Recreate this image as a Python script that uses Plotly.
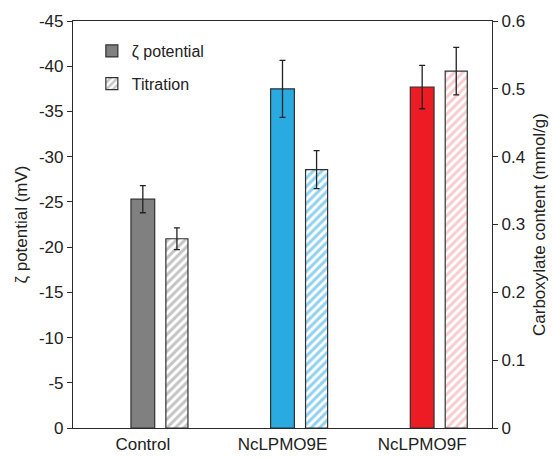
import plotly.graph_objects as go

categories = ["Control", "NcLPMO9E", "NcLPMO9F"]
zeta_mV = [-25.3, -37.5, -37.7]
zeta_err = [1.5, 3.15, 2.4]
carbox = [0.279, 0.381, 0.526]
carbox_err = [0.016, 0.028, 0.035]
zeta_colors = ["#808080", "#29ABE2", "#ED1C24"]
titr_stripe_colors = ["#8a8a8a", "#1FA3E0", "#F09AA0"]
left_ticks = [0, -5, -10, -15, -20, -25, -30, -35, -40, -45]
left_ticktext = ["0", "-5", "-10", "-15", "-20", "-25", "-30", "-35", "-40", "-45"]
right_ticks = [0, 0.1, 0.2, 0.3, 0.4, 0.5, 0.6]
right_ticktext = ["0", "0.1", "0.2", "0.3", "0.4", "0.5", "0.6"]

xpos = list(range(len(categories)))
FONT = "Liberation Sans, Arial, sans-serif"
AX = "#2a2a2a"

fig = go.Figure()
fig.add_trace(go.Bar(
    x=xpos, y=zeta_mV, name="ζ potential", yaxis="y", legendgroup="a",
    width=0.17, offset=-0.085,
    marker=dict(color=zeta_colors, line=dict(color="#303030", width=1.2)),
    error_y=dict(type="data", array=zeta_err, color="#222222", thickness=1.3, width=3),
))
fig.add_trace(go.Bar(
    x=xpos, y=carbox, name="Titration", yaxis="y2", legendgroup="b",
    width=0.158, offset=0.165,
    marker=dict(color="white", line=dict(color="#303030", width=1.2),
                pattern=dict(shape="/", fgcolor=titr_stripe_colors, bgcolor="white",
                             size=6, solidity=0.5, fillmode="overlay")),
    error_y=dict(type="data", array=carbox_err, color="#222222", thickness=1.3, width=3),
))

fig.update_layout(
    width=552, height=458,
    margin=dict(l=73, r=60, t=21, b=30),
    paper_bgcolor="white", plot_bgcolor="white",
    barmode="overlay",
    font=dict(family=FONT, size=16, color="#222222"),
    showlegend=True,
    legend=dict(x=0.045, y=0.968, xanchor="left", yanchor="top",
                bgcolor="rgba(0,0,0,0)", font=dict(size=16, family=FONT),
                itemwidth=30, tracegroupgap=9),
    xaxis=dict(range=[-0.5, 2.5], tickvals=xpos, ticktext=categories,
               showline=True, linecolor=AX, linewidth=1.2, mirror=True,
               ticks="", showgrid=False, zeroline=False, automargin=False,
               tickfont=dict(size=17, family=FONT)),
    yaxis=dict(range=[0, -45], tickvals=left_ticks, ticktext=left_ticktext,
               showline=True, linecolor=AX, linewidth=1.2,
               ticks="outside", ticklen=5, tickcolor=AX,
               showgrid=False, zeroline=False, automargin=False,
               tickfont=dict(size=17, family=FONT),
               title=dict(text="ζ potential (mV)", font=dict(size=17, family=FONT), standoff=6)),
    yaxis2=dict(range=[0, 0.6], tickvals=right_ticks, ticktext=right_ticktext,
                overlaying="y", side="right",
                showline=True, linecolor=AX, linewidth=1.2,
                ticks="outside", ticklen=5, tickcolor=AX,
                showgrid=False, zeroline=False, automargin=False,
                tickfont=dict(size=17, family=FONT),
                title=dict(text="Carboxylate content (mmol/g)", font=dict(size=17, family=FONT), standoff=8)),
)

fig.write_html("out.html")
